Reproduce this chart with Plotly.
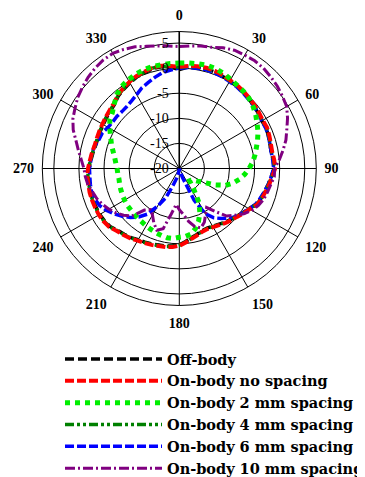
import plotly.graph_objects as go

angles = list(range(0, 360, 5)) + [0]

off_body = [-0.3, 0.3, 0.5, 0.6, 0.5, 0.3, 0.1, 0.0, -0.2, -0.4, -0.6, -0.8,
            -1.0, -0.9, -1.1, -1.3, -1.4, -1.2, -1.1, -1.6, -2.0, -2.4, -2.7, -3.1,
            -4.0, -4.6, -5.2, -5.6, -6.0, -6.4, -6.7, -6.9, -6.8, -6.4, -6.0, -5.4,
            -4.8, -4.5, -4.3, -4.2, -4.0, -3.8, -3.6, -3.2, -2.9, -2.6, -2.0, -1.8,
            -1.7, -1.7, -1.7, -1.7, -1.8, -1.8, -2.0, -2.3, -2.5, -2.7, -2.7, -2.6,
            -2.5, -2.3, -2.1, -1.8, -1.1, -0.7, -0.3, 0.1, 0.3, 0.6, 0.6, 0.3, -0.3]

no_spacing = [0.3, 0.5, 0.7, 0.8, 0.7, 0.5, 0.3, 0.2, 0.0, -0.2, -0.4, -0.6,
              -0.8, -0.7, -0.9, -1.1, -1.2, -1.0, -0.9, -1.4, -1.8, -2.2, -2.5, -2.9,
              -3.8, -4.4, -5.0, -5.4, -5.8, -6.2, -6.5, -6.7, -6.6, -6.2, -5.8, -5.2,
              -4.6, -4.3, -4.1, -4.0, -3.8, -3.6, -3.4, -3.0, -2.7, -2.4, -1.8, -1.6,
              -1.5, -1.5, -1.5, -1.5, -1.6, -1.6, -1.8, -2.1, -2.3, -2.5, -2.5, -2.4,
              -2.3, -2.1, -1.9, -1.6, -0.9, -0.5, -0.1, 0.3, 0.5, 0.8, 0.8, 0.5, 0.3]

spacing_2mm = [1.0, 1.1, 1.2, 1.3, 1.2, 0.9, 0.5, 0.2, 0.0, -0.3, -0.8, -1.4,
               -2.1, -2.7, -3.4, -4.1, -4.7, -5.3, -6.1, -6.9, -7.8, -8.9, -10.2, -12.3,
               -14.6, -15.6, -16.4, -16.7, -16.8, -15.0, -12.2, -10.3, -8.8, -7.6, -6.7, -6.4,
               -6.3, -6.0, -6.0, -6.2, -6.4, -6.6, -6.8, -7.0, -7.1, -7.2, -7.3, -7.3,
               -7.4, -7.5, -7.6, -7.7, -7.8, -7.7, -7.6, -7.3, -6.9, -6.3, -5.6, -4.9,
               -4.0, -3.1, -2.6, -1.7, -0.7, 0.0, 0.4, 0.7, 0.9, 1.0, 1.0, 1.0, 1.0]

spacing_4mm = [0.2, 0.4, 0.6, 0.7, 0.6, 0.4, 0.2, 0.1, -0.1, -0.3, -0.5, -0.7,
               -0.9, -0.8, -1.0, -1.2, -1.3, -1.1, -1.0, -1.5, -1.9, -2.3, -2.6, -3.0,
               -3.9, -4.5, -5.1, -5.5, -5.9, -6.3, -6.6, -6.8, -6.7, -6.3, -5.9, -5.3,
               -4.7, -4.4, -4.2, -4.1, -3.9, -3.7, -3.5, -3.1, -2.8, -2.5, -1.9, -1.7,
               -1.6, -1.6, -1.6, -1.6, -1.7, -1.7, -1.9, -2.2, -2.4, -2.6, -2.6, -2.5,
               -2.4, -2.2, -2.0, -1.7, -1.0, -0.6, -0.2, 0.2, 0.4, 0.7, 0.7, 0.4, 0.2]

spacing_6mm = [0.0, 0.2, 0.3, 0.4, 0.3, 0.2, 0.0, -0.1, -0.3, -0.5, -0.6, -0.8,
               -1.0, -1.0, -1.1, -1.3, -1.4, -1.3, -1.2, -1.6, -2.0, -2.4, -2.8, -3.2,
               -3.9, -4.6, -5.1, -6.0, -7.0, -8.0, -9.6, -13.0, -18.0, -19.2, -19.8, -20.0,
               -20.0, -19.8, -19.2, -18.0, -16.5, -13.5, -11.3, -8.9, -7.4, -6.2, -5.2, -4.2,
               -3.3, -2.5, -2.1, -1.9, -2.0, -2.1, -2.1, -2.3, -2.3, -2.6, -3.0, -3.1,
               -3.6, -3.8, -3.8, -3.9, -3.8, -3.5, -3.0, -2.3, -1.8, -1.2, -0.6, -0.3, 0.0]

spacing_10mm = [4.3, 4.5, 4.8, 5.0, 5.6, 6.0, 6.1, 6.2, 6.1, 5.8, 5.5, 5.1,
                4.7, 3.8, 2.8, 2.0, 1.0, 0.0, -1.0, -1.0, -1.5, -1.8, -2.1, -2.6,
                -3.3, -4.3, -5.5, -6.6, -8.8, -10.5, -9.5, -8.2, -7.4, -8.0, -9.3, -10.8,
                -11.8, -12.8, -10.8, -7.6, -6.9, -8.0, -9.3, -10.0, -9.2, -6.6, -5.5, -4.6,
                -3.8, -3.1, -2.5, -2.1, -1.5, -1.2, -1.0, -0.4, 0.4, 1.3, 2.5, 3.4,
                4.0, 4.7, 5.2, 5.7, 6.1, 6.4, 6.5, 6.2, 5.8, 5.2, 4.8, 4.5, 4.3]

angle_ticks = [0, 30, 60, 90, 120, 150, 180, 210, 240, 270, 300, 330]
angle_labels = ["0", "30", "60", "90", "120", "150", "180", "210", "240", "270", "300", "330"]
radial_ticks = [-20, -15, -10, -5, 0, 5]
radial_labels = ["-20", "-15", "-10", "-5", "0", "5"]

series = [
    # name, values, color, width, dash, rank
    ("Off-body", off_body, "#000000", 3.5, "9px,4px", 1),
    ("On-body 6 mm spacing", spacing_6mm, "#0000ff", 3.5, "9px,3px", 5),
    ("On-body 4 mm spacing", spacing_4mm, "#008000", 3.5, "9px,3px,3px,3px,3px,3px", 4),
    ("On-body no spacing", no_spacing, "#ff0000", 4, "9px,3px", 2),
    ("On-body 2 mm spacing", spacing_2mm, "#00ee00", 5, "5px,5px", 3),
    ("On-body 10 mm spacing", spacing_10mm, "#800080", 3, "10px,3px,2px,3px", 6),
]

fig = go.Figure()
for name, vals, color, width, dash, rank in series:
    fig.add_trace(go.Scatterpolar(
        r=vals, theta=angles, mode="lines", name=name,
        line=dict(color=color, width=width, dash=dash),
        legendrank=rank, legendgroup=name,
    ))

# the page body adds an 8 px offset, so the layout is placed 8 px up/left
cx, cy, half = 171.3, 160.5, 137.0

fig.update_layout(
    width=365, height=477,
    margin=dict(l=0, r=0, t=0, b=0, autoexpand=False),
    paper_bgcolor="white",
    showlegend=True,
    legend=dict(
        x=52 / 365, y=1 - 335 / 477, xanchor="left", yanchor="top",
        traceorder="grouped", tracegroupgap=0, itemwidth=97,
        font=dict(family="DejaVu Serif", size=14.5, color="black", weight="bold"),
        bgcolor="rgba(0,0,0,0)",
    ),
    polar=dict(
        domain=dict(x=[(cx - half) / 365, (cx + half) / 365],
                    y=[1 - (cy + half) / 477, 1 - (cy - half) / 477]),
        bgcolor="white",
        angularaxis=dict(
            direction="clockwise", rotation=90,
            tickmode="array", tickvals=angle_ticks, ticktext=angle_labels,
            showline=True, linecolor="black", linewidth=1,
            showgrid=True, gridcolor="black", gridwidth=1,
            ticks="outside", ticklen=5, tickcolor="rgba(0,0,0,0)",
            tickfont=dict(family="Liberation Serif", size=14, color="black", weight="bold"),
        ),
        radialaxis=dict(
            range=[-20, 7.3], tickmode="array", tickvals=radial_ticks, ticktext=radial_labels,
            angle=90, tickangle=90, side="counterclockwise",
            showline=True, linecolor="black", linewidth=1.5,
            showgrid=True, gridcolor="black", gridwidth=1,
            ticks="outside", ticklen=5, tickcolor="rgba(0,0,0,0)",
            tickfont=dict(family="Liberation Serif", size=14, color="black"),
        ),
    ),
)

fig.write_html("out.html")
